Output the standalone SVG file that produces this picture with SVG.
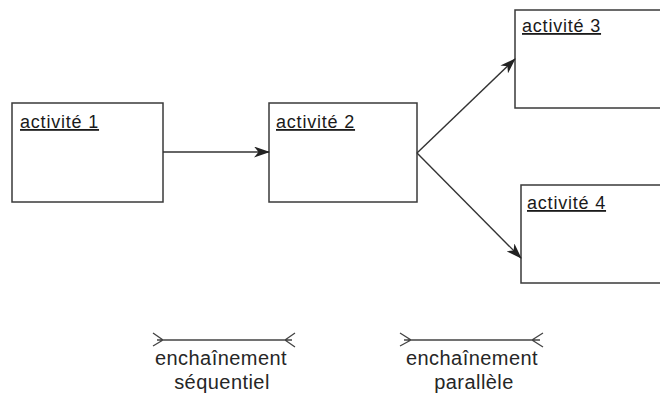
<svg xmlns="http://www.w3.org/2000/svg" width="660" height="397" viewBox="0 0 660 397">
<style>
.box{fill:#fff;stroke:#3a3a3a;stroke-width:1.5}
.lbl{font-family:"Liberation Sans",Arial,sans-serif;font-size:18px;fill:#1a1a1a;letter-spacing:0.8px;text-decoration:underline}
.cap{font-family:"Liberation Sans",Arial,sans-serif;font-size:20px;fill:#262626;letter-spacing:0.45px;text-anchor:middle}
.edge{fill:none;stroke:#333;stroke-width:1.4}
.leg{fill:none;stroke:#444;stroke-width:1.3}
</style>
<defs>
<marker id="ah" viewBox="0 0 16 11" refX="15" refY="5.5" markerWidth="16" markerHeight="11" markerUnits="userSpaceOnUse" orient="auto">
<path d="M0,0 L16,5.5 L0,11 L4.5,5.5 z" fill="#222"/>
</marker>
</defs>
<rect width="660" height="397" fill="#fff"/>
<g id="activite1">
<rect class="box" x="12" y="103" width="151" height="99"/>
<text class="lbl" x="20" y="128">activité 1</text>
</g>
<g id="activite2">
<rect class="box" x="269" y="103" width="148" height="99"/>
<text class="lbl" x="276" y="128">activité 2</text>
</g>
<g id="activite3">
<rect class="box" x="515" y="10" width="160" height="98"/>
<text class="lbl" x="522" y="32">activité 3</text>
</g>
<g id="activite4">
<rect class="box" x="521" y="185" width="160" height="98"/>
<text class="lbl" x="527" y="209">activité 4</text>
</g>
<g id="connectors">
<line class="edge" x1="163" y1="152" x2="269" y2="152" marker-end="url(#ah)"/>
<line class="edge" x1="417" y1="153" x2="515" y2="59" marker-end="url(#ah)"/>
<line class="edge" x1="417" y1="153" x2="521" y2="258" marker-end="url(#ah)"/>
</g>
<g id="legend-sequentiel">
<path class="leg" d="M153,333 L163,340 L153,346 M157,340 L292,340 M295,333 L285,340 L295,347"/>
<text class="cap" x="221" y="365">enchaînement</text>
<text class="cap" x="222" y="389">séquentiel</text>
</g>
<g id="legend-parallele">
<path class="leg" d="M400,333 L411,340 L400,346 M404,340 L540,340 M543,333 L532,340 L543,347"/>
<text class="cap" x="472" y="365">enchaînement</text>
<text class="cap" x="474" y="389">parallèle</text>
</g>
</svg>
